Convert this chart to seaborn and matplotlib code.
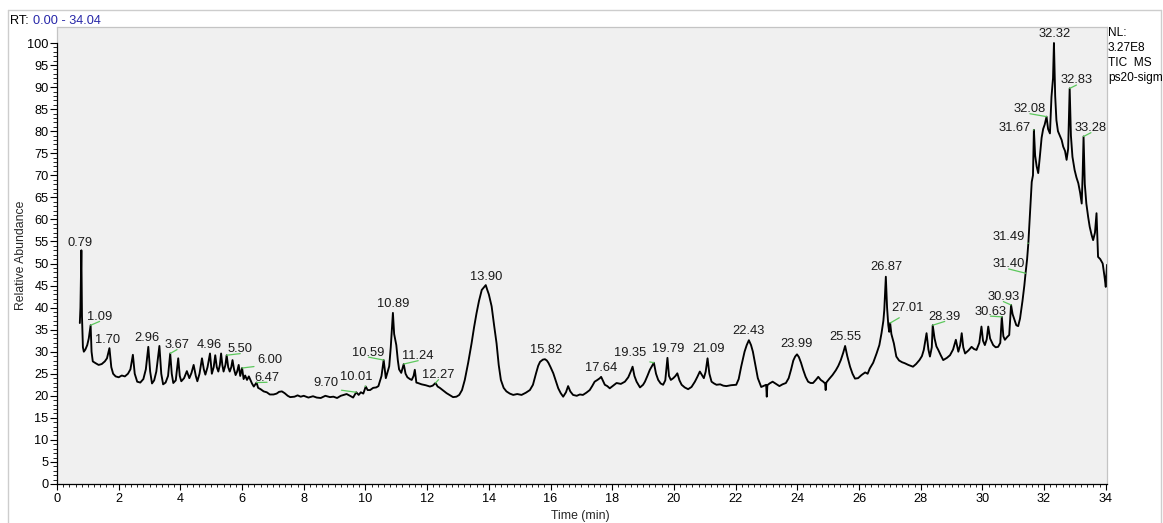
import numpy as np
import pandas as pd
import matplotlib
matplotlib.use("Agg")
import matplotlib.pyplot as plt
from matplotlib.lines import Line2D
from matplotlib.ticker import MultipleLocator, FixedLocator
import seaborn as sns

# Total ion chromatogram: retention time (min) and relative abundance (%)
rt_min = [
    0.74, 0.76, 0.79, 0.81, 0.84, 0.87, 0.92, 0.98, 1.03, 1.09,
    1.12, 1.16, 1.25, 1.35, 1.45, 1.55, 1.62, 1.70, 1.76, 1.82,
    1.90, 2.00, 2.10, 2.20, 2.30, 2.38, 2.46, 2.52, 2.60, 2.70,
    2.80, 2.88, 2.96, 3.02, 3.08, 3.15, 3.22, 3.32, 3.38, 3.44,
    3.52, 3.60, 3.67, 3.72, 3.77, 3.85, 3.93, 3.98, 4.03, 4.12,
    4.21, 4.29, 4.36, 4.43, 4.50, 4.55, 4.62, 4.70, 4.76, 4.81,
    4.88, 4.96, 5.02, 5.08, 5.13, 5.18, 5.23, 5.28, 5.32, 5.36,
    5.40, 5.46, 5.50, 5.55, 5.60, 5.65, 5.69, 5.74, 5.79, 5.84,
    5.89, 5.94, 6.00, 6.05, 6.10, 6.16, 6.22, 6.27, 6.32, 6.38,
    6.43, 6.47, 6.52, 6.60, 6.70, 6.80, 6.90, 7.02, 7.12, 7.20,
    7.29, 7.38, 7.48, 7.56, 7.70, 7.80, 7.90, 8.00, 8.15, 8.30,
    8.42, 8.55, 8.70, 8.85, 8.96, 9.08, 9.20, 9.30, 9.39, 9.50,
    9.60, 9.70, 9.78, 9.85, 9.93, 10.01, 10.07, 10.15, 10.25, 10.35,
    10.42, 10.52, 10.59, 10.66, 10.72, 10.77, 10.82, 10.89, 10.93, 10.97,
    11.00, 11.05, 11.09, 11.16, 11.24, 11.30, 11.36, 11.44, 11.50, 11.56,
    11.60, 11.65, 11.70, 11.82, 11.95, 12.09, 12.18, 12.27, 12.34, 12.41,
    12.52, 12.63, 12.75, 12.84, 12.95, 13.04, 13.13, 13.22, 13.33, 13.44,
    13.52, 13.60, 13.68, 13.77, 13.85, 13.90, 13.95, 14.00, 14.09, 14.17,
    14.25, 14.32, 14.39, 14.48, 14.57, 14.68, 14.79, 14.92, 15.06, 15.20,
    15.33, 15.43, 15.53, 15.60, 15.66, 15.75, 15.82, 15.88, 15.93, 16.00,
    16.09, 16.17, 16.25, 16.33, 16.41, 16.50, 16.57, 16.64, 16.73, 16.85,
    16.95, 17.05, 17.16, 17.27, 17.35, 17.43, 17.52, 17.60, 17.64, 17.70,
    17.76, 17.84, 17.92, 18.03, 18.14, 18.28, 18.41, 18.52, 18.60, 18.66,
    18.72, 18.79, 18.90, 19.00, 19.06, 19.14, 19.22, 19.35, 19.42, 19.49,
    19.57, 19.65, 19.72, 19.79, 19.84, 19.90, 19.98, 20.05, 20.11, 20.18,
    20.25, 20.35, 20.46, 20.57, 20.68, 20.76, 20.84, 20.92, 20.97, 21.03,
    21.09, 21.15, 21.22, 21.30, 21.38, 21.50, 21.60, 21.70, 21.85, 22.02,
    22.10, 22.18, 22.29, 22.36, 22.43, 22.50, 22.56, 22.64, 22.72, 22.83,
    22.93, 22.99, 23.01, 23.03, 23.10, 23.20, 23.31, 23.42, 23.52, 23.63,
    23.72, 23.80, 23.87, 23.93, 23.99, 24.05, 24.12, 24.19, 24.27, 24.35,
    24.43, 24.51, 24.60, 24.68, 24.76, 24.84, 24.90, 24.92, 24.94, 25.03,
    25.14, 25.25, 25.33, 25.41, 25.49, 25.55, 25.62, 25.71, 25.79, 25.87,
    25.97, 26.08, 26.20, 26.28, 26.35, 26.46, 26.57, 26.66, 26.73, 26.79,
    26.82, 26.87, 26.91, 26.95, 26.98, 27.01, 27.05, 27.13, 27.21, 27.30,
    27.40, 27.48, 27.60, 27.75, 27.85, 27.96, 28.04, 28.10, 28.19, 28.25,
    28.30, 28.36, 28.39, 28.45, 28.51, 28.57, 28.65, 28.73, 28.85, 28.95,
    29.05, 29.14, 29.22, 29.28, 29.33, 29.38, 29.44, 29.55, 29.65, 29.73,
    29.81, 29.90, 29.97, 30.02, 30.08, 30.14, 30.19, 30.25, 30.35, 30.43,
    30.51, 30.58, 30.63, 30.68, 30.73, 30.80, 30.87, 30.93, 30.98, 31.05,
    31.10, 31.16, 31.22, 31.30, 31.36, 31.40, 31.45, 31.49, 31.55, 31.60,
    31.64, 31.67, 31.71, 31.76, 31.81, 31.86, 31.92, 31.97, 32.02, 32.08,
    32.13, 32.19, 32.24, 32.29, 32.32, 32.36, 32.40, 32.45, 32.51, 32.57,
    32.62, 32.68, 32.73, 32.78, 32.83, 32.87, 32.92, 32.99, 33.05, 33.11,
    33.17, 33.22, 33.25, 33.28, 33.32, 33.37, 33.43, 33.48, 33.54, 33.59,
    33.65, 33.70, 33.75, 33.82, 33.90, 33.96, 34.00, 34.04,
]
rel_abundance = [
    36.5, 40.0, 53.0, 38.0, 31.0, 30.0, 30.5, 31.5, 33.0, 36.0,
    30.0, 27.8, 27.4, 27.0, 27.2, 27.8, 28.5, 30.8, 26.5, 25.0,
    24.4, 24.2, 24.6, 24.4, 25.0, 26.0, 29.3, 25.0, 23.2, 23.0,
    23.8, 26.0, 31.1, 25.5, 22.8, 23.5, 25.5, 31.3, 25.0, 22.6,
    23.0, 24.5, 29.6, 25.0, 22.9, 23.5, 28.5, 24.5, 23.3, 24.0,
    25.6, 24.0, 25.2, 27.0, 24.5, 23.3, 25.0, 28.5, 26.0, 24.8,
    26.5, 29.6, 25.0, 26.5, 29.2, 26.5, 25.5, 27.0, 29.6, 27.0,
    25.5, 27.0, 29.2, 26.5, 25.5, 26.5, 28.1, 26.0, 24.7, 25.5,
    27.0, 24.5, 26.3, 23.8, 24.6, 23.6, 24.4, 23.6, 22.8, 22.1,
    22.6, 23.0, 21.8, 21.5, 21.0, 20.8, 20.3, 20.3, 20.5, 20.9,
    21.0, 20.6, 20.0, 19.7, 19.8, 20.1, 19.8, 20.0, 19.6, 19.9,
    19.6, 19.5, 20.0, 19.7, 19.8, 19.5, 20.0, 20.2, 20.4, 20.0,
    19.6, 20.8, 20.2, 20.8, 20.5, 22.1, 21.3, 21.3, 21.8, 21.9,
    22.2, 24.5, 28.1, 24.0, 25.5, 26.7, 31.0, 38.8, 34.0, 32.5,
    31.5, 28.0, 26.0, 25.2, 27.2, 25.0, 24.2, 23.8, 23.6, 24.5,
    25.9, 23.0, 22.9, 22.6, 22.4, 22.1, 22.3, 22.9, 22.1, 21.8,
    21.2, 20.6, 20.1, 19.7, 19.8, 20.2, 21.3, 23.6, 27.5, 31.9,
    35.5, 38.7, 41.5, 44.0, 44.7, 45.1, 44.0, 43.0, 40.3, 36.0,
    31.9, 27.0, 23.6, 21.8, 21.0, 20.5, 20.2, 20.4, 20.2, 20.7,
    21.3, 22.5, 25.1, 26.8, 27.7, 28.2, 28.3, 28.0, 27.5, 26.5,
    25.1, 23.4, 21.7, 20.6, 19.8, 20.8, 22.2, 21.0, 20.2, 20.0,
    20.3, 20.2, 20.7, 21.3, 22.2, 23.2, 23.6, 24.0, 24.3, 23.4,
    22.5, 22.2, 21.7, 22.3, 22.9, 22.7, 23.2, 24.2, 25.5, 26.6,
    24.5, 23.2, 21.9, 22.5, 23.2, 24.5, 25.9, 27.5, 25.0, 23.6,
    22.8, 22.5, 23.5, 28.6, 24.5, 23.6, 24.0, 24.5, 25.1, 23.5,
    22.5, 21.9, 21.5, 22.0, 23.2, 24.3, 25.5, 24.6, 24.0, 25.5,
    28.5, 25.0, 23.2, 22.8, 22.5, 22.6, 22.3, 22.2, 22.4, 22.5,
    23.8, 26.6, 30.0, 31.5, 32.6, 31.5, 30.0, 27.0, 24.0, 22.0,
    22.3, 22.5, 19.8, 22.4, 22.8, 23.2, 22.7, 22.2, 22.6, 22.9,
    24.0, 26.0, 28.0, 28.9, 29.4, 28.8, 27.5, 25.9, 24.3, 23.2,
    22.9, 22.9, 23.6, 24.3, 23.6, 23.2, 22.8, 21.3, 23.0, 23.8,
    24.7, 25.8, 26.8, 28.1, 29.8, 31.3, 29.0, 26.6, 25.0, 23.9,
    24.0, 24.7, 25.3, 25.0, 26.2, 27.5, 29.6, 31.5, 34.2, 37.0,
    39.5, 47.0, 40.0, 36.0, 34.5, 36.5, 34.0, 31.9, 28.9, 28.0,
    27.6, 27.4, 27.0, 26.6, 27.2, 28.1, 29.0, 30.4, 34.2, 30.5,
    28.9, 31.0, 36.0, 33.0, 31.2, 30.4, 29.2, 28.1, 28.6, 29.2,
    30.5, 32.7, 30.0, 31.5, 34.2, 31.0, 29.6, 30.3, 31.1, 30.6,
    30.4, 32.0, 35.7, 32.5, 31.5, 32.8, 35.7, 33.0, 31.5, 31.0,
    31.1, 32.0, 37.9, 33.5, 32.7, 33.3, 33.8, 40.6, 38.5, 37.0,
    36.0, 35.8, 37.5, 41.5, 45.0, 47.8, 51.0, 54.6, 62.0, 68.5,
    70.0, 80.3, 74.5, 72.0, 70.5, 74.0, 78.5, 80.5, 81.5, 83.3,
    80.5, 79.5, 87.8, 92.0, 100.0, 88.0, 82.5, 80.0, 79.0, 78.0,
    76.5, 75.5, 73.5, 76.0, 89.7, 79.0, 74.2, 71.2, 69.5, 68.2,
    66.0, 63.6, 70.0, 78.8, 68.0, 63.6, 60.5, 58.3, 56.5, 55.3,
    57.0, 61.4, 51.5, 51.0, 50.0, 47.0, 44.7, 49.7,
]

# Retention times of the annotated peaks
peak_rt = [
    0.79, 1.09, 1.70, 2.96, 3.67, 4.96, 5.50, 6.00, 6.47, 9.70,
    10.01, 10.59, 10.89, 11.24, 12.27, 13.90, 15.82, 17.64, 19.35, 19.79,
    21.09, 22.43, 23.99, 25.55, 26.87, 27.01, 28.39, 30.63, 30.93, 31.40,
    31.49, 31.67, 32.08, 32.32, 32.83, 33.28,
]

# Annotation layout: label centre (time, abundance) and whether a leader line is drawn
label_xy = [
    (0.75, 54.7), (1.38, 37.9), (1.65, 32.7), (2.90, 33.1), (3.89, 31.5),
    (4.94, 31.5), (5.94, 30.6), (6.90, 28.1), (6.81, 24.1), (8.71, 22.8),
    (9.71, 24.3), (10.10, 29.8), (10.90, 40.8), (11.71, 29.0), (12.37, 24.7),
    (13.90, 46.9), (15.85, 30.3), (17.63, 26.2), (18.59, 29.6), (19.82, 30.6),
    (21.11, 30.6), (22.43, 34.8), (23.99, 31.7), (25.55, 33.4), (26.89, 49.1),
    (27.57, 39.8), (28.78, 37.9), (30.26, 39.1), (30.68, 42.4), (30.85, 49.8),
    (30.84, 56.1), (31.03, 80.7), (31.54, 85.0), (32.34, 102.0), (33.05, 91.5),
    (33.52, 80.7),
]
label_leader = [
    False, True, False, False, True, False, True, True, True, True,
    True, True, False, True, True, False, False, False, True, False,
    False, False, False, False, False, True, True, True, True, True,
    True, True, True, False, True, True,
]

sns.set_style("ticks")
plt.rcParams["font.family"] = ["Liberation Sans", "DejaVu Sans"]

W, H = 1163, 523
fig = plt.figure(figsize=(W / 100, H / 100), dpi=100)
fig.patch.set_facecolor("white")

# plot area in pixel units of the figure
left_px, right_px, top_px, bottom_px = 57, 1107, 27, 484
ax = fig.add_axes([left_px / W, 1 - bottom_px / H,
                   (right_px - left_px) / W, (bottom_px - top_px) / H])
ax.set_facecolor("#f0f0f0")

df = pd.DataFrame({"Time (min)": rt_min, "Relative Abundance": rel_abundance})
sns.lineplot(data=df, x="Time (min)", y="Relative Abundance", ax=ax,
             color="black", linewidth=1.35, estimator=None, sort=False)

ax.set_xlim(0, 34.04)
ax.set_ylim(0, (bottom_px - top_px) / 4.41)

# axes frame
for side in ("top", "right"):
    ax.spines[side].set_visible(True)
    ax.spines[side].set_color("#c4c4c4")
    ax.spines[side].set_linewidth(0.9)
ax.spines["left"].set_color("black")
ax.spines["left"].set_linewidth(0.9)
ax.spines["left"].set_bounds(0, 100)
ax.spines["bottom"].set_color("black")
ax.spines["bottom"].set_linewidth(0.9)
ax.plot([0, 0], [100, ax.get_ylim()[1]], color="#c4c4c4", lw=0.9,
        clip_on=False, zorder=0)

# ticks
ax.xaxis.set_major_locator(MultipleLocator(2))
ax.xaxis.set_minor_locator(MultipleLocator(0.2))
ax.yaxis.set_major_locator(FixedLocator(np.arange(0, 101, 5)))
ax.yaxis.set_minor_locator(FixedLocator(np.arange(0, 101, 1)))
ax.tick_params(axis="y", which="major", length=5.0, width=0.8, pad=1,
               labelsize=9.2, colors="black", direction="out")
ax.tick_params(axis="y", which="minor", length=2.9, width=0.7, direction="out")
ax.tick_params(axis="x", which="major", length=4.3, width=0.8, pad=2,
               labelsize=9.2, colors="black", direction="out")
ax.tick_params(axis="x", which="minor", length=1.9, width=0.7, direction="out")

ax.set_xlabel("Time (min)", fontsize=8.8)
ax.set_ylabel("Relative Abundance", fontsize=8.8)
ax.xaxis.set_label_coords((580 - left_px) / (right_px - left_px),
                          (bottom_px - 510) / (bottom_px - top_px))
ax.yaxis.set_label_coords((27 - left_px) / (right_px - left_px), 0.5)

# peak annotations
peak_height = np.interp(peak_rt, rt_min, rel_abundance)
for t, h, (lx, ly), lead in zip(peak_rt, peak_height, label_xy, label_leader):
    txt = f"{t:.2f}"
    if lead:
        ax.annotate(txt, xy=(t, h), xytext=(lx, ly), textcoords="data",
                    ha="center", va="center", fontsize=9.3, color="#1a1a1a",
                    arrowprops=dict(arrowstyle="-", color="#5cc85c", lw=0.9,
                                    shrinkA=0, shrinkB=0, relpos=(0.5, 0.12)))
    else:
        ax.text(lx, ly, txt, ha="center", va="center", fontsize=9.3,
                color="#1a1a1a")

# outer frame of the panel
frame_kw = dict(transform=fig.transFigure, color="#cdcdcd", lw=1.0)
fig.add_artist(Line2D([8 / W, 1161 / W], [1 - 10 / H, 1 - 10 / H], **frame_kw))
fig.add_artist(Line2D([8 / W, 8 / W], [0, 1 - 10 / H], **frame_kw))
fig.add_artist(Line2D([1161 / W, 1161 / W], [0, 1 - 10 / H], **frame_kw))

# retention-time range header
fig.text(10 / W, 1 - 20.5 / H, "RT:", ha="left", va="center", fontsize=9.2,
         color="black")
fig.text(33 / W, 1 - 20.5 / H, "0.00 - 34.04", ha="left", va="center",
         fontsize=9.2, color="#2626a8")

# normalisation / scan info
info_lines = ["NL:", "3.27E8", "TIC  MS", "ps20-sigm"]
info_y = [33, 48, 63, 78]
for s, y in zip(info_lines, info_y):
    fig.text(1108 / W, 1 - y / H, s, ha="left", va="center", fontsize=8.6,
             color="black")

fig.savefig("out.png", dpi=100)
